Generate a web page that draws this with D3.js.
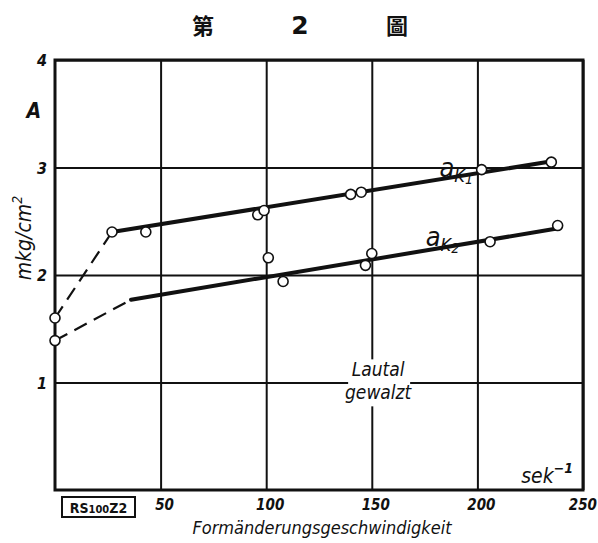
<!DOCTYPE html>
<html>
<head>
<meta charset="utf-8">
<script src="https://cdn.jsdelivr.net/npm/d3@7"></script>
<style>
  body { margin: 0; background: #fff; }
  svg { display: block; }
  text { fill: #111; }
  .lab { font-family: "DejaVu Sans Condensed", "DejaVu Sans", sans-serif; font-style: italic; }
</style>
</head>
<body>
<div id="chart"></div>
<script>
const WIDTH = 598;
const HEIGHT = 543;

// x ticks (sek^-1) and y ticks (mkg/cm^2)
const xTicks = [50, 100, 150, 200, 250];
const yTicks = [1, 2, 3, 4];

// measured points
const k1Points = [
  [0, 1.6], [27, 2.4], [43, 2.4], [96, 2.56], [99, 2.6],
  [140, 2.75], [145, 2.77], [202, 2.98], [235, 3.05]
];
const k2Points = [
  [0, 1.39], [101, 2.16], [108, 1.94], [147, 2.09], [150, 2.2],
  [206, 2.31], [238, 2.46]
];

// fitted lines: dashed start + solid run
const k1Dashed = [[0, 1.6], [27, 2.4]];
const k1Solid = [[27, 2.4], [236, 3.06]];
const k2Dashed = [[0, 1.39], [36, 1.77]];
const k2Solid = [[36, 1.77], [237, 2.43]];

const margin = {top: 60, right: 15, bottom: 53, left: 55};
const width = WIDTH - margin.left - margin.right;
const height = HEIGHT - margin.top - margin.bottom;

function translate(x, y) {
  return `translate(${x}, ${y})`;
}

const svg = d3.select('#chart').append('svg')
  .attr('width', WIDTH)
  .attr('height', HEIGHT);

// title
const title = svg.append('g')
  .attr('font-family', '"Noto Sans CJK TC", "Noto Sans CJK SC", sans-serif')
  .attr('font-weight', 'bold')
  .attr('font-size', 22)
  .attr('text-anchor', 'middle');
title.append('text').attr('x', 203).attr('y', 34).text('第');
title.append('text').attr('x', 300).attr('y', 34)
  .attr('font-family', '"DejaVu Sans", sans-serif').attr('font-size', 25).text('2');
title.append('text').attr('x', 397).attr('y', 34).text('圖');

const g = svg.append('g').attr('transform', translate(margin.left, margin.top));

const x = d3.scaleLinear().domain([0, 250]).range([0, width]);
const y = d3.scaleLinear().domain([0, 4]).range([height, 0]);

// grid
const xAxis = g.append('g')
  .attr('transform', translate(0, height))
  .call(d3.axisBottom(x).tickValues(xTicks).tickSize(height).tickSizeOuter(0).tickFormat(''));
xAxis.select('.domain').remove();
xAxis.selectAll('.tick line')
  .attr('transform', translate(0, -height))
  .attr('stroke', '#111')
  .attr('stroke-width', 2);

const yAxis = g.append('g')
  .call(d3.axisLeft(y).tickValues(yTicks).tickSize(-width).tickSizeOuter(0).tickFormat(''));
yAxis.select('.domain').remove();
yAxis.selectAll('.tick line')
  .attr('stroke', '#111')
  .attr('stroke-width', 2);

// frame
g.append('rect')
  .attr('width', width)
  .attr('height', height)
  .attr('fill', 'none')
  .attr('stroke', '#111')
  .attr('stroke-width', 3);

// tick labels
g.selectAll('.xlab').data(xTicks).enter().append('text')
  .attr('class', 'lab')
  .attr('x', d => d === 250 ? x(d) + 14 : x(d) + 4)
  .attr('y', height + 20)
  .attr('text-anchor', d => d === 250 ? 'end' : 'middle')
  .attr('font-size', 15)
  .attr('font-weight', 'bold')
  .text(d => d);

g.selectAll('.ylab').data(yTicks).enter().append('text')
  .attr('class', 'lab')
  .attr('x', -8)
  .attr('y', d => y(d) + 6)
  .attr('text-anchor', 'end')
  .attr('font-size', 16)
  .attr('font-weight', 'bold')
  .text(d => d);

g.append('text')
  .attr('class', 'lab')
  .attr('x', -14)
  .attr('y', 58)
  .attr('text-anchor', 'end')
  .attr('font-size', 21)
  .attr('font-weight', 'bold')
  .text('A');

// y axis title
svg.append('text')
  .attr('class', 'lab')
  .attr('transform', 'translate(31, 238) rotate(-90)')
  .attr('text-anchor', 'middle')
  .attr('font-size', 21)
  .html('mkg/cm<tspan dy="-9" font-size="14">2</tspan>');

// x axis title
svg.append('text')
  .attr('class', 'lab')
  .attr('x', 322)
  .attr('y', 534)
  .attr('text-anchor', 'middle')
  .attr('font-size', 18)
  .text('Formänderungsgeschwindigkeit');

// unit
g.append('text')
  .attr('class', 'lab')
  .attr('x', width - 10)
  .attr('y', height - 7)
  .attr('text-anchor', 'end')
  .attr('font-size', 21)
  .html('sek<tspan dy="-10" font-size="14" font-weight="bold">−1</tspan>');

// sample mark box
const box = svg.append('g').attr('transform', translate(62, 497));
box.append('rect')
  .attr('width', 73).attr('height', 20)
  .attr('fill', '#fff').attr('stroke', '#111').attr('stroke-width', 2);
box.append('text')
  .attr('x', 36.5).attr('y', 15.5)
  .attr('text-anchor', 'middle')
  .attr('font-family', '"DejaVu Sans Condensed", "DejaVu Sans", sans-serif')
  .attr('font-size', 14)
  .attr('font-weight', 'bold')
  .html('RS<tspan font-size="11">100</tspan>Z2');

// lines
const line = d3.line().x(d => x(d[0])).y(d => y(d[1]));

[k1Dashed, k2Dashed].forEach(d => {
  g.append('path').datum(d)
    .attr('fill', 'none').attr('stroke', '#111')
    .attr('stroke-width', 2.2)
    .attr('stroke-dasharray', '14,8')
    .attr('d', line);
});

[k1Solid, k2Solid].forEach(d => {
  g.append('path').datum(d)
    .attr('fill', 'none').attr('stroke', '#111')
    .attr('stroke-width', 4)
    .attr('stroke-linecap', 'round')
    .attr('d', line);
});

// points
[k1Points, k2Points].forEach(pts => {
  g.selectAll(null).data(pts).enter().append('circle')
    .attr('cx', d => x(d[0]))
    .attr('cy', d => y(d[1]))
    .attr('r', 5)
    .attr('fill', '#fff')
    .attr('stroke', '#111')
    .attr('stroke-width', 1.6);
});

// series labels
function seriesLabel(px, py, sub) {
  const t = g.append('text')
    .attr('class', 'lab')
    .attr('x', px)
    .attr('y', py)
    .attr('font-size', 27);
  t.append('tspan').text('a');
  t.append('tspan').attr('dy', 5).attr('font-size', 18).text('K');
  t.append('tspan').attr('dy', 2).attr('font-size', 14).text(sub);
}
seriesLabel(x(182), y(2.91), '1');
seriesLabel(x(175.5), y(2.27), '2');

// Lautal gewalzt note
const note = g.append('g').attr('transform', translate(x(153), y(1.02)));
note.append('rect')
  .attr('x', -30).attr('y', -21).attr('width', 62).attr('height', 47)
  .attr('fill', '#fff');
note.append('text')
  .attr('class', 'lab')
  .attr('text-anchor', 'middle')
  .attr('font-size', 19)
  .attr('y', -4)
  .text('Lautal');
note.append('text')
  .attr('class', 'lab')
  .attr('text-anchor', 'middle')
  .attr('font-size', 19)
  .attr('y', 19)
  .text('gewalzt');
</script>
</body>
</html>
